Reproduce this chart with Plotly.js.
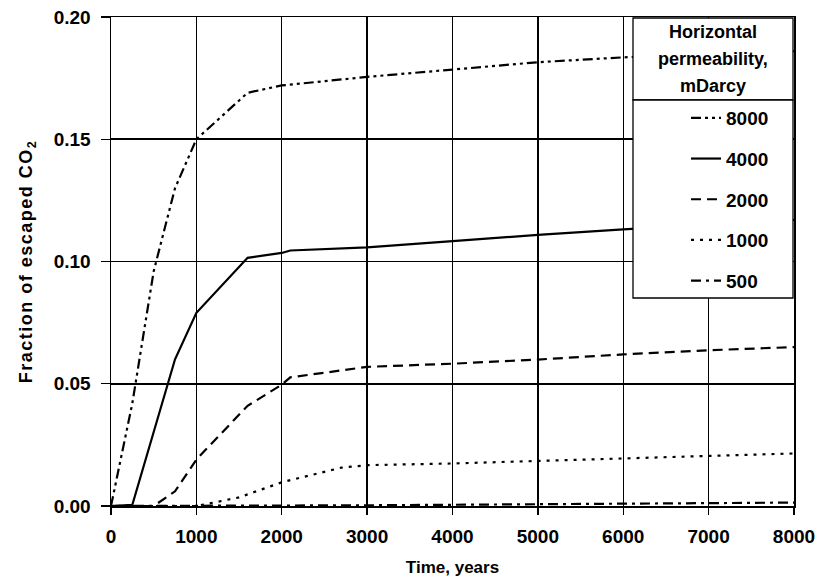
<!DOCTYPE html>
<html><head><meta charset="utf-8">
<script src="https://cdn.plot.ly/plotly-3.0.1.min.js"></script>
<style>html,body{margin:0;padding:0;background:#fff} .ytitle{letter-spacing:1.5px}</style>
</head><body><div id="chart" style="width:819px;height:583px"></div>
<script>
// Time (years) and fraction of escaped CO2 for each horizontal permeability (mDarcy)
const t8000 = [0, 250, 500, 750, 1000, 1600, 2000, 3000, 4000, 5000, 6000, 7000, 8000];
const v8000 = [0, 0.042, 0.096, 0.130, 0.150, 0.169, 0.172, 0.1755, 0.1785, 0.1815, 0.1835, 0.185, 0.186];

const t4000 = [0, 250, 750, 1000, 1600, 2000, 2100, 3000, 4000, 5000, 6000, 7000, 8000];
const v4000 = [0, 0.0005, 0.060, 0.079, 0.1015, 0.1035, 0.1045, 0.1058, 0.1083, 0.1109, 0.1131, 0.115, 0.117];

const t2000 = [0, 500, 750, 1000, 1600, 2000, 2100, 3000, 4000, 5000, 6000, 7000, 8000];
const v2000 = [0, 0, 0.006, 0.019, 0.041, 0.0496, 0.0526, 0.0569, 0.0582, 0.0599, 0.062, 0.0637, 0.065];

const t1000 = [0, 1000, 1500, 2000, 2700, 3000, 4000, 5000, 6000, 7000, 8000];
const v1000 = [0, 0, 0.0035, 0.0097, 0.0157, 0.0167, 0.0174, 0.0185, 0.0195, 0.0204, 0.0215];

const t500 = [0, 1000, 2000, 3000, 4000, 5000, 6000, 7000, 8000];
const v500 = [0, 0, 0.0001, 0.0003, 0.0005, 0.0007, 0.001, 0.0012, 0.0014];

const seriesLabels = ['8000', '4000', '2000', '1000', '500'];
const legendTitleLines = ['Horizontal', 'permeability,', 'mDarcy'];
const xTickVals = [0, 1000, 2000, 3000, 4000, 5000, 6000, 7000, 8000];
const yTickVals = [0, 0.05, 0.10, 0.15, 0.20];
const yTickText = ['0.00', '0.05', '0.10', '0.15', '0.20'];

const FONT = 'Liberation Sans, Arial, Helvetica, sans-serif';
const dashes = ['10px,4px,3px,4px,3px,4px', 'solid', '10px,6px', '3px,6px', '10px,5px,3px,5px'];
const xs = [t8000, t4000, t2000, t1000, t500];
const ys = [v8000, v4000, v2000, v1000, v500];

const data = seriesLabels.map((name, i) => ({
  x: xs[i], y: ys[i], type: 'scatter', mode: 'lines', name: name,
  legendgroup: 'g' + i,
  line: {color: '#000', width: 2.2, dash: dashes[i]},
  hoverinfo: 'skip'
}));

const L = 111, R = 794, T = 17, B = 506;
const px = p => (p - L) / (R - L);
const py = p => (B - p) / (B - T);

const annotations = legendTitleLines.map((txt, i) => ({
  xref: 'paper', yref: 'paper', x: px(713), y: py(32 + i * 27),
  xanchor: 'center', yanchor: 'middle', showarrow: false,
  text: txt, font: {family: FONT, size: 18, color: '#000', weight: 'bold'}
}));

const layout = {
  width: 819, height: 583,
  margin: {l: L, r: 819 - R, t: T, b: 583 - B},
  paper_bgcolor: '#fff', plot_bgcolor: '#fff',
  showlegend: true,
  legend: {
    x: px(686), y: py(99), xanchor: 'left', yanchor: 'top',
    bgcolor: 'rgba(0,0,0,0)', borderwidth: 0,
    tracegroupgap: 13,
    font: {family: FONT, size: 19, color: '#000', weight: 'bold'}
  },
  xaxis: {
    range: [0, 8000], tickvals: xTickVals, ticktext: xTickVals.map(String),
    showgrid: true, gridcolor: '#000', gridwidth: 1.3,
    showline: true, linecolor: '#000', linewidth: 1.5, mirror: true,
    ticks: 'outside', ticklen: 7, tickwidth: 1.3, tickcolor: '#000',
    ticklabelstandoff: 6,
    zeroline: false,
    tickfont: {family: FONT, size: 19, color: '#000', weight: 'bold'},
    title: {text: 'Time, years', standoff: 15, font: {family: FONT, size: 17, color: '#000', weight: 'bold'}}
  },
  yaxis: {
    range: [0, 0.20], tickvals: yTickVals, ticktext: yTickText,
    showgrid: true, gridcolor: '#000', gridwidth: 1.6,
    showline: true, linecolor: '#000', linewidth: 1.5, mirror: true,
    ticks: 'outside', ticklen: 9, tickwidth: 1.3, tickcolor: '#000',
    ticklabelstandoff: 6,
    zeroline: false,
    tickfont: {family: FONT, size: 19, color: '#000', weight: 'bold'},
    title: {text: 'Fraction of escaped CO<sub>2</sub>', standoff: 16, font: {family: FONT, size: 18, color: '#000', weight: 'bold'}}
  },
  shapes: [
    {type: 'rect', xref: 'paper', yref: 'paper', layer: 'above',
     x0: px(633), x1: px(793), y0: py(100), y1: py(18),
     fillcolor: '#fff', line: {color: '#000', width: 1.3}},
    {type: 'rect', xref: 'paper', yref: 'paper', layer: 'above',
     x0: px(633), x1: px(793), y0: py(298), y1: py(100),
     fillcolor: '#fff', line: {color: '#000', width: 1.3}}
  ],
  annotations: annotations
};

Plotly.newPlot('chart', data, layout, {displayModeBar: false, staticPlot: true});
</script></body></html>
